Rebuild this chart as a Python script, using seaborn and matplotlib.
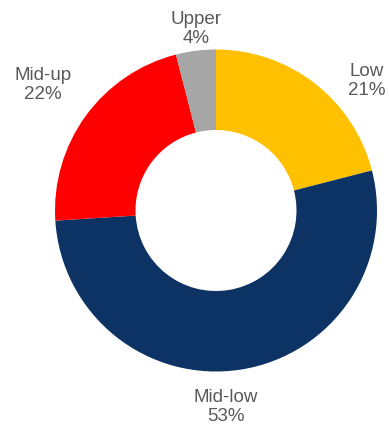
import matplotlib
matplotlib.use("Agg")
import matplotlib.pyplot as plt
import seaborn as sns

segments = ["Low", "Mid-low", "Mid-up", "Upper"]
shares = [21, 53, 22, 4]
colors = ["#FFC000", "#0C3364", "#FF0000", "#A6A6A6"]
label_pos = [(367, 81), (226, 407), (43, 85), (196, 29)]

sns.set_theme(style="white")
plt.rcParams['font.family'] = ['Liberation Sans', 'DejaVu Sans']

fig = plt.figure(figsize=(3.89, 4.27), dpi=100)
ax = fig.add_axes([0, 0, 1, 1])

ax.pie(shares, colors=sns.color_palette(colors), startangle=90, counterclock=False,
       center=(216, 427 - 211.5), radius=161,
       wedgeprops=dict(width=80.5, linewidth=0))

# pie resets the limits, so put the pixel frame back afterwards
ax.set_xlim(0, 389)
ax.set_ylim(0, 427)
ax.set_aspect("equal")
ax.axis("off")

for name, val, (x, y) in zip(segments, shares, label_pos):
    ax.text(x, 427 - y, f"{name}\n{val}%", ha="center", va="center",
            fontsize=13.5, color="#595959", linespacing=1.12)

fig.savefig("out.png", dpi=100)
